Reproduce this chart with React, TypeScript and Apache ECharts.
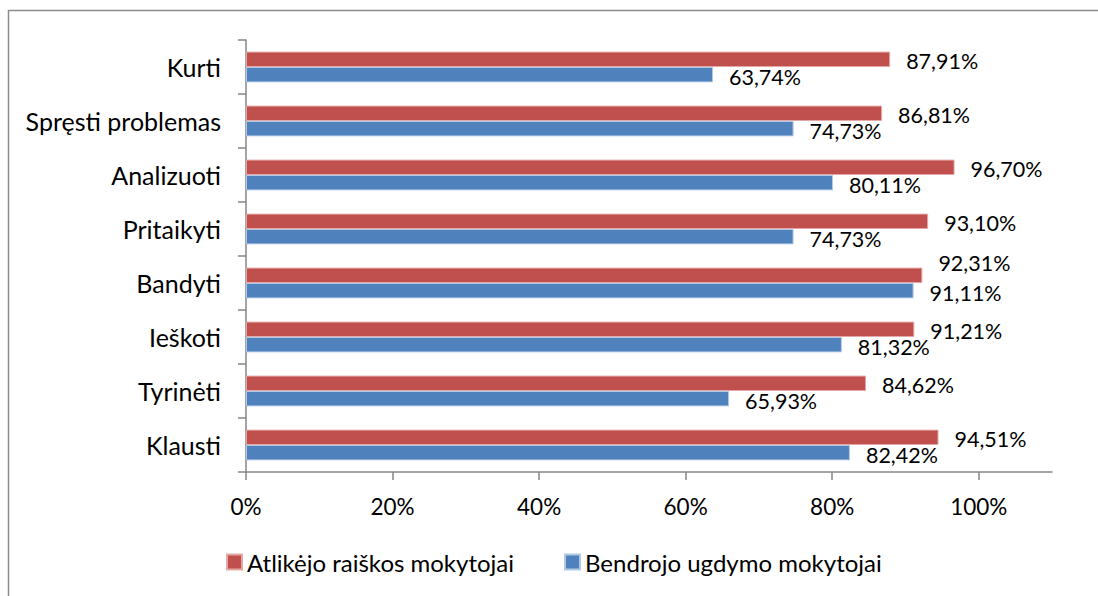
import React, { useEffect, useRef } from "react";
import * as echarts from "echarts";

const categories = [
  "Kurti",
  "Spręsti problemas",
  "Analizuoti",
  "Pritaikyti",
  "Bandyti",
  "Ieškoti",
  "Tyrinėti",
  "Klausti",
];
const seriesNames = ["Atlikėjo raiškos mokytojai", "Bendrojo ugdymo mokytojai"];
const redValues = [87.91, 86.81, 96.7, 93.1, 92.31, 91.21, 84.62, 94.51];
const blueValues = [63.74, 74.73, 80.11, 74.73, 91.11, 81.32, 65.93, 82.42];
const tickValues = [0, 20, 40, 60, 80, 100];

const FONT = "Lato";

export default function App() {
  const ref = useRef<HTMLDivElement>(null);
  useEffect(() => {
    document.body.style.margin = "0";
    const chart = echarts.init(ref.current!, null, { renderer: "svg" });
    const fmt = (p: any) => p.value.toFixed(2).replace(".", ",") + "%";
    const labelBase = {
      show: true,
      position: "right",
      distance: 16,
      offset: [0, 2],
      color: "#000",
      fontFamily: FONT,
      fontSize: 21.5,
      formatter: fmt,
    };
    const redData = redValues.map((v, i) =>
      categories[i] === "Bandyti"
        ? { value: v, label: { offset: [0, -12] } }
        : { value: v }
    );
    chart.setOption({
      animation: false,
      textStyle: { fontFamily: FONT },
      graphic: [
        {
          type: "rect",
          shape: { x: 8.5, y: 10.5, width: 1200, height: 700 },
          style: { fill: "none", stroke: "#8c8c8c", lineWidth: 1.5 },
          silent: true,
        },
      ],
      grid: { left: 246, right: 46, top: 40, bottom: 124, containLabel: false },
      legend: {
        data: seriesNames,
        left: 221,
        top: 545,
        icon: "rect",
        itemWidth: 15,
        itemHeight: 15,
        itemGap: 50,
        textStyle: { fontFamily: FONT, fontSize: 24, color: "#000" },
      },
      xAxis: {
        type: "value",
        min: 0,
        max: 110,
        interval: 20,
        splitLine: { show: false },
        axisLine: { show: true, lineStyle: { color: "#868686", width: 1.5 } },
        axisTick: {
          show: true,
          length: 8,
          customValues: tickValues,
          lineStyle: { color: "#868686", width: 1.5 },
        },
        axisLabel: {
          customValues: tickValues,
          formatter: (v: number) => v + "%",
          margin: 23,
          color: "#000",
          fontFamily: FONT,
          fontSize: 22.5,
        },
      },
      yAxis: {
        type: "category",
        data: categories,
        inverse: true,
        axisLine: { show: true, lineStyle: { color: "#868686", width: 1.5 } },
        axisTick: { show: true, length: 8, lineStyle: { color: "#868686", width: 1.5 } },
        axisLabel: {
          margin: 25,
          color: "#000",
          fontFamily: FONT,
          fontSize: 25,
        },
      },
      series: [
        {
          name: seriesNames[0],
          type: "bar",
          data: redData,
          barGap: "0%",
          barCategoryGap: "43%",
          itemStyle: { color: "#C0504D", borderColor: "#E3A8A6", borderWidth: 1 },
          label: labelBase,
        },
        {
          name: seriesNames[1],
          type: "bar",
          data: blueValues,
          barGap: "0%",
          barCategoryGap: "43%",
          itemStyle: { color: "#4F81BD", borderColor: "#B3C8E4", borderWidth: 1 },
          label: labelBase,
        },
      ],
    });
    return () => chart.dispose();
  }, []);
  return <div ref={ref} style={{ width: 1098, height: 596 }} />;
}
